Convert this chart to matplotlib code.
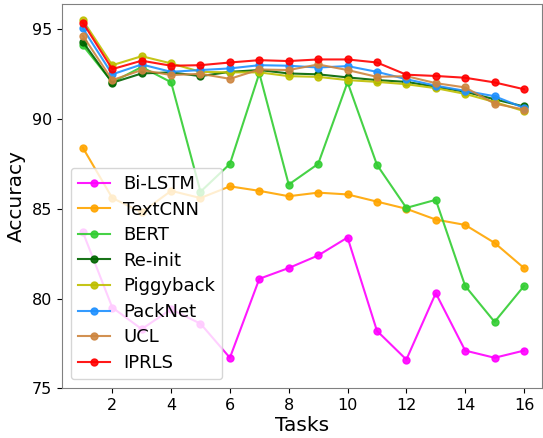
import matplotlib
matplotlib.use('Agg')
import matplotlib.pyplot as plt
import numpy as np

tasks = list(range(1, 17))

bilstm    = [83.7, 79.5, 78.3, 79.4, 78.6, 76.7, 81.1, 81.7, 82.4, 83.4, 78.2, 76.6, 80.3, 77.1, 76.7, 77.1]
textcnn   = [88.4, 85.6, 84.8, 86.0, 85.6, 86.25, 86.0, 85.7, 85.9, 85.8, 85.4, 85.0, 84.4, 84.1, 83.1, 81.7]
bert      = [94.1, 92.05, 92.9, 92.05, 85.95, 87.5, 92.55, 86.35, 87.5, 92.05, 87.45, 85.05, 85.5, 80.7, 78.7, 80.7]
reinit    = [94.3, 92.02, 92.54, 92.6, 92.39, 92.63, 92.73, 92.54, 92.49, 92.32, 92.17, 92.07, 91.8, 91.52, 91.1, 90.7]
piggyback = [95.5, 93.0, 93.5, 93.1, 92.63, 92.6, 92.6, 92.39, 92.35, 92.17, 92.07, 91.94, 91.72, 91.4, 90.95, 90.44]
packnet   = [95.05, 92.49, 93.04, 92.63, 92.73, 92.82, 93.0, 92.97, 92.87, 92.95, 92.63, 92.22, 91.86, 91.57, 91.27, 90.62]
ucl       = [94.64, 92.17, 92.73, 92.45, 92.52, 92.24, 92.76, 92.73, 93.04, 92.73, 92.35, 92.39, 92.0, 91.76, 90.86, 90.53]
iprls     = [95.37, 92.78, 93.25, 92.97, 93.0, 93.15, 93.28, 93.23, 93.32, 93.32, 93.15, 92.47, 92.4, 92.3, 92.04, 91.66]

series = [
    ('Bi-LSTM', bilstm, 'magenta'),
    ('TextCNN', textcnn, 'orange'),
    ('BERT', bert, 'limegreen'),
    ('Re-init', reinit, 'darkgreen'),
    ('Piggyback', piggyback, 'y'),
    ('PackNet', packnet, 'dodgerblue'),
    ('UCL', ucl, 'peru'),
    ('IPRLS', iprls, 'red'),
]

fig = plt.figure(figsize=(5.43, 4.38), dpi=100)
ax = fig.add_axes([0.1136, 0.1135, 0.885, 0.877])

for name, vals, col in series:
    ax.plot(tasks, vals, color=col, marker='o', markersize=5, linewidth=1.5, label=name, alpha=0.9)

ax.set_xlim(0.28, 16.62)
ax.set_ylim(75, 96.4)
ax.set_xticks([2, 4, 6, 8, 10, 12, 14, 16])
ax.set_yticks([75, 80, 85, 90, 95])
ax.tick_params(axis='both', labelsize=11.5)
ax.set_xlabel('Tasks', fontsize=14.5, labelpad=2)
ax.set_ylabel('Accuracy', fontsize=14.5)
for s in ax.spines.values():
    s.set_color('gray')

ax.legend(loc='lower left', fontsize=13, labelspacing=0.42, handlelength=1.8, handletextpad=0.7)

plt.savefig('out.png', dpi=100)
